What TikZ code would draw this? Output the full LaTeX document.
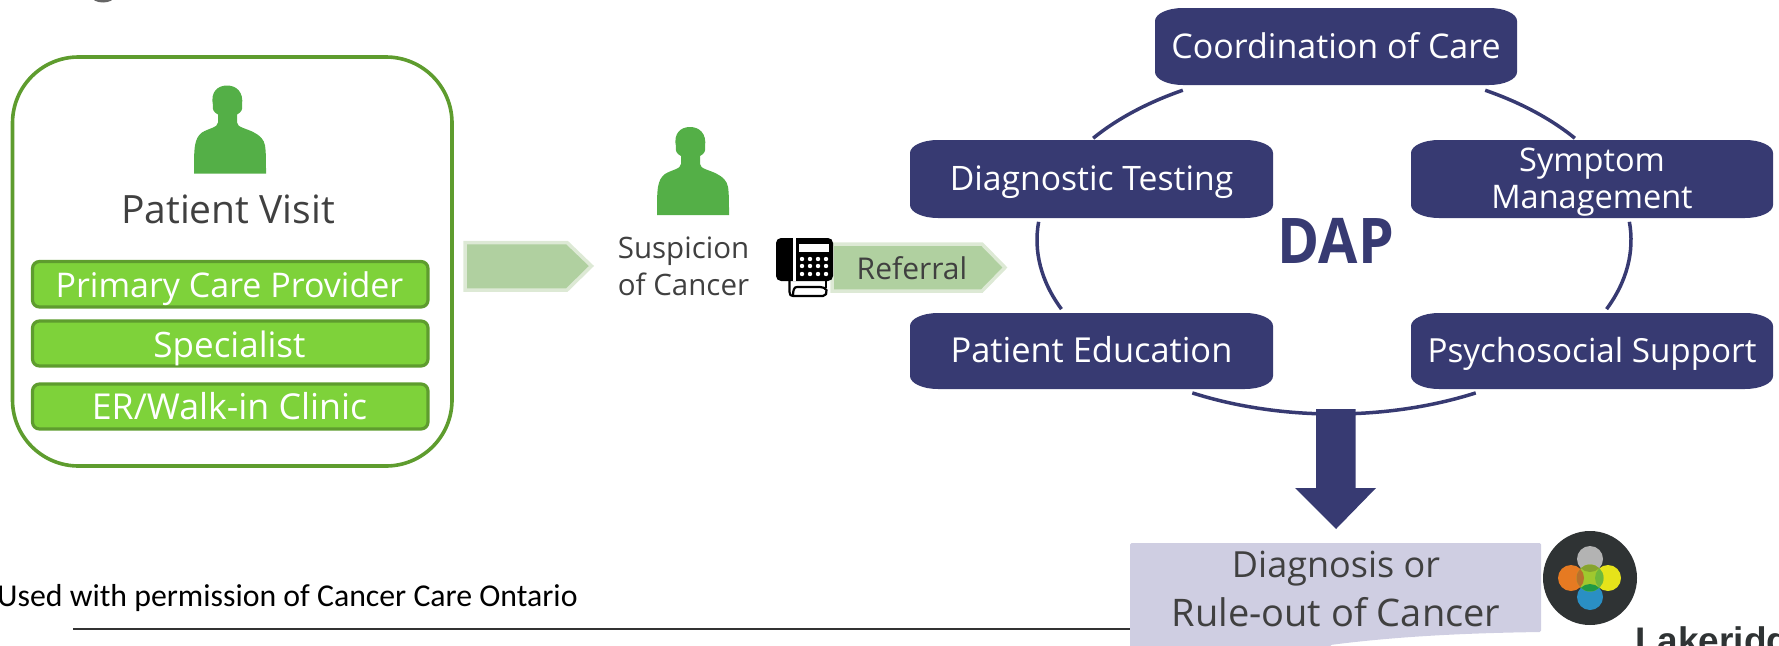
\documentclass[tikz,border=0pt]{standalone}
\usepackage{fontspec}
\setmainfont{Open Sans}
\newfontfamily\calfont{Carlito}
\newfontfamily\arialfont{Liberation Sans}
\definecolor{dapblue}{HTML}{373A72}
\definecolor{bargreen}{HTML}{7ED23A}
\definecolor{barline}{HTML}{5E9C2E}
\definecolor{persongreen}{HTML}{54AF47}
\definecolor{arrowfill}{HTML}{B0D0A0}
\definecolor{arrowline}{HTML}{DDE9D5}
\definecolor{textgrey}{HTML}{404040}
\definecolor{lilac}{HTML}{CFCEE2}
\definecolor{logodark}{HTML}{2F3334}
\definecolor{logogrey}{HTML}{B3B3B3}
\definecolor{logoorange}{HTML}{E67A22}
\definecolor{logoyellow}{HTML}{E6E31A}
\definecolor{logoblue}{HTML}{2A8FC4}
\definecolor{logolime}{HTML}{A0C82E}
\definecolor{logoolive}{HTML}{86A32E}
\definecolor{logobrown}{HTML}{B8702C}
\definecolor{logoright}{HTML}{6FB83B}
\definecolor{logobottom}{HTML}{1F9A45}
\newcommand\fsz[2][37]{\fontsize{#2}{#1}\selectfont}
\tikzset{
  barbox/.style={draw=barline,fill=bargreen,line width=3.2pt,rounded corners=7pt},
  bartext/.style={text=white,inner sep=0pt},
  greytext/.style={text=textgrey,inner sep=0pt,align=center},
  daptext/.style={text=white,inner sep=0pt,align=center},
  ringarc/.style={draw=dapblue,line width=3.5pt},
  chevron/.style={fill=arrowfill,draw=arrowline,line width=3.5pt,line join=miter},
  persona/.pic={
    \fill[persongreen] (0,88) .. controls (0,75) and (0,66) .. (1,60)
      .. controls (2,54) and (4,50) .. (8,47) .. controls (14,43) and (24,42) .. (24,37)
      -- (24,29) .. controls (20,27) and (18,24) .. (19,20) .. controls (16,6) and (24,0) .. (33,0)
      .. controls (42,0) and (50,6) .. (48,20) .. controls (49,24) and (47,27) .. (43,29)
      -- (43,37) .. controls (43,42) and (53,43) .. (60,47) .. controls (66,50) and (70,54) .. (71,60)
      .. controls (72,66) and (72,75) .. (72,88) -- cycle;
  }
}
\newcommand\dapbox[7][0]{%
  \fill[dapblue] ({#3+28},#4) -- ({#5-28},#4) arc[start angle=90,end angle=0,x radius=28pt,y radius=13pt]
    -- (#5,{#6-13}) arc[start angle=0,end angle=-90,x radius=28pt,y radius=13pt]
    -- ({#3+28},#6) arc[start angle=270,end angle=180,x radius=28pt,y radius=13pt]
    -- (#3,{#4+13}) arc[start angle=180,end angle=90,x radius=28pt,y radius=13pt] -- cycle;
  \node[daptext] (#2) at ({(#3+#5)/2},{(#4+#6)/2-1+#1}) {#7};
}
\begin{document}
\begin{tikzpicture}[x=1pt,y=-1pt]
\useasboundingbox (0,0) rectangle (1779,645);
\clip (0,0) rectangle (1779,645);
% fragment at the top edge
\fill[gray!80!black] (103,-3) ellipse[x radius=11pt,y radius=5.5pt];
% left group
\draw[draw=barline,line width=3.6pt,rounded corners=66pt] (12.5,57) rectangle (452,466);
\pic at (194,85.5) {persona};
\node[greytext,font=\fsz{39}] (visit) at (228,209) {Patient Visit};
\draw[barbox] (32.5,261.5) rectangle (428,307);
\node[bartext,font=\fsz{34}] (pcp) at (229.5,289) {Primary Care Provider};
\draw[barbox] (32.5,321) rectangle (428,366);
\node[bartext,font=\fsz{35}] (spec) at (229.5,348) {Specialist};
\draw[barbox] (32.5,384) rectangle (428,429);
\node[bartext,font=\fsz{35.7}] (er) at (229.5,406.5) {ER/Walk-in Clinic};
% first chevron
\draw[chevron] (465,242.5) -- (567,242.5) -- (591.5,266) -- (567,290) -- (465,290) -- cycle;
% suspicion
\pic at (657,127) {persona};
\node[greytext,font=\fsz{29.5}] (susp) at (683.5,266) {Suspicion\\of Cancer};
% referral chevron
\draw[chevron] (832,244) -- (982,244) -- (1005,267.5) -- (982,291) -- (832,291) -- cycle;
\node[greytext,font=\fsz{30}] (ref) at (912,268) {Referral};
% phone
\fill[black,rounded corners=5pt] (776,238) rectangle (833,281);
\fill[white] (793,238) rectangle (795.5,281);
\fill[white] (799,244) rectangle (829,252);
\foreach \px in {802,810,818,826}\foreach \py in {259,266,274}{\fill[white] (\px,\py) circle[radius=2.2pt];}
\draw[black,line width=2.2pt,line join=round] (789.5,281) -- (789.5,292) .. controls (789.5,295) and (791,296) .. (793,296) -- (823,296) .. controls (826,296) and (827,293) .. (826.5,290) .. controls (825,288) and (823,287) .. (820,287) -- (797,287) .. controls (794,287) and (793,290) .. (793,296);
\draw[black,line width=2.2pt] (826,281) -- (826,288);
% DAP ring
\coordinate (ringc) at (1334,240);
\draw[ringarc] (ringc) ++(120.6:297pt and 174pt) arc[start angle=120.6,end angle=144.2,x radius=297pt,y radius=174pt];
\draw[ringarc] (ringc) ++(59.4:297pt and 174pt) arc[start angle=59.4,end angle=35.8,x radius=297pt,y radius=174pt];
\draw[ringarc] (ringc) ++(174:297pt and 174pt) arc[start angle=174,end angle=203.4,x radius=297pt,y radius=174pt];
\draw[ringarc] (ringc) ++(6:297pt and 174pt) arc[start angle=6,end angle=-23.4,x radius=297pt,y radius=174pt];
\draw[ringarc] (ringc) ++(241.5:297pt and 174pt) arc[start angle=241.5,end angle=298.5,x radius=297pt,y radius=174pt];
% DAP boxes
\dapbox{coord}{1155}{8}{1517}{85}{\fsz{34}Coordination of Care}
\dapbox[4.5]{diag}{910}{140}{1273}{218}{\fsz{33.7}Diagnostic Testing}
\dapbox[4.5]{symp}{1411}{140}{1773}{218}{\fsz{32.5}Symptom\\[5pt]\fsz{32.5}Management}
\dapbox{educ}{910}{313}{1273}{389}{\fsz{34.4}Patient Education}
\dapbox[3.5]{psych}{1411}{313}{1773}{389}{\fsz{33.2}Psychosocial Support}
\node[text=dapblue,inner sep=0pt,font={\fsz[60]{60}\bfseries}] (dap) at (1336,241) {\scalebox{.95}[1.05]{DAP}};
% footer line
\draw[draw=black!80,line width=2pt] (73,628.5) -- (1135,628.5);
\node[anchor=base west,inner sep=0pt,text=black,font=\calfont\fontsize{31.8}{32}\selectfont] (used) at (-3,606) {Used with permission of Cancer Care Ontario};
% big arrow
\fill[dapblue] (1316,409) -- (1355.5,409) -- (1355.5,488) -- (1376,488) -- (1336,529) -- (1295,488) -- (1316,488) -- cycle;
% result box
\fill[lilac,rounded corners=1.5pt] (1130,543) -- (1541,543) -- (1541,632) .. controls (1470,633) and (1400,636) .. (1330,645) -- (1330,650) -- (1130,650) -- cycle;
\node[greytext] (result) at (1336,589) {\fsz[47]{36}Diagnosis or\\[10pt]\fsz[47]{38}Rule-out of Cancer};
% logo
\fill[logodark] (1590,578) circle[radius=47pt];
\fill[logogrey] (1590,559) circle[radius=13pt];
\fill[logoorange] (1571,578) circle[radius=13pt];
\fill[logoyellow] (1608,578) circle[radius=13pt];
\fill[logoblue] (1590,597) circle[radius=13pt];
\fill[logolime] (1590,578) circle[radius=13.5pt];
\begin{scope}
\clip (1590,578) circle[radius=13.5pt];
\fill[logoolive] (1590,559) circle[radius=13pt];
\fill[logobrown] (1571,578) circle[radius=13pt];
\fill[logoright] (1608,578) circle[radius=13pt];
\fill[logobottom] (1590,597) circle[radius=13pt];
\end{scope}
\node[anchor=base west,inner sep=0pt,text=logodark,font=\arialfont\bfseries\fontsize{37}{37}\selectfont] (lake) at (1635,653) {Lakeridge Health};
\end{tikzpicture}
\end{document}
